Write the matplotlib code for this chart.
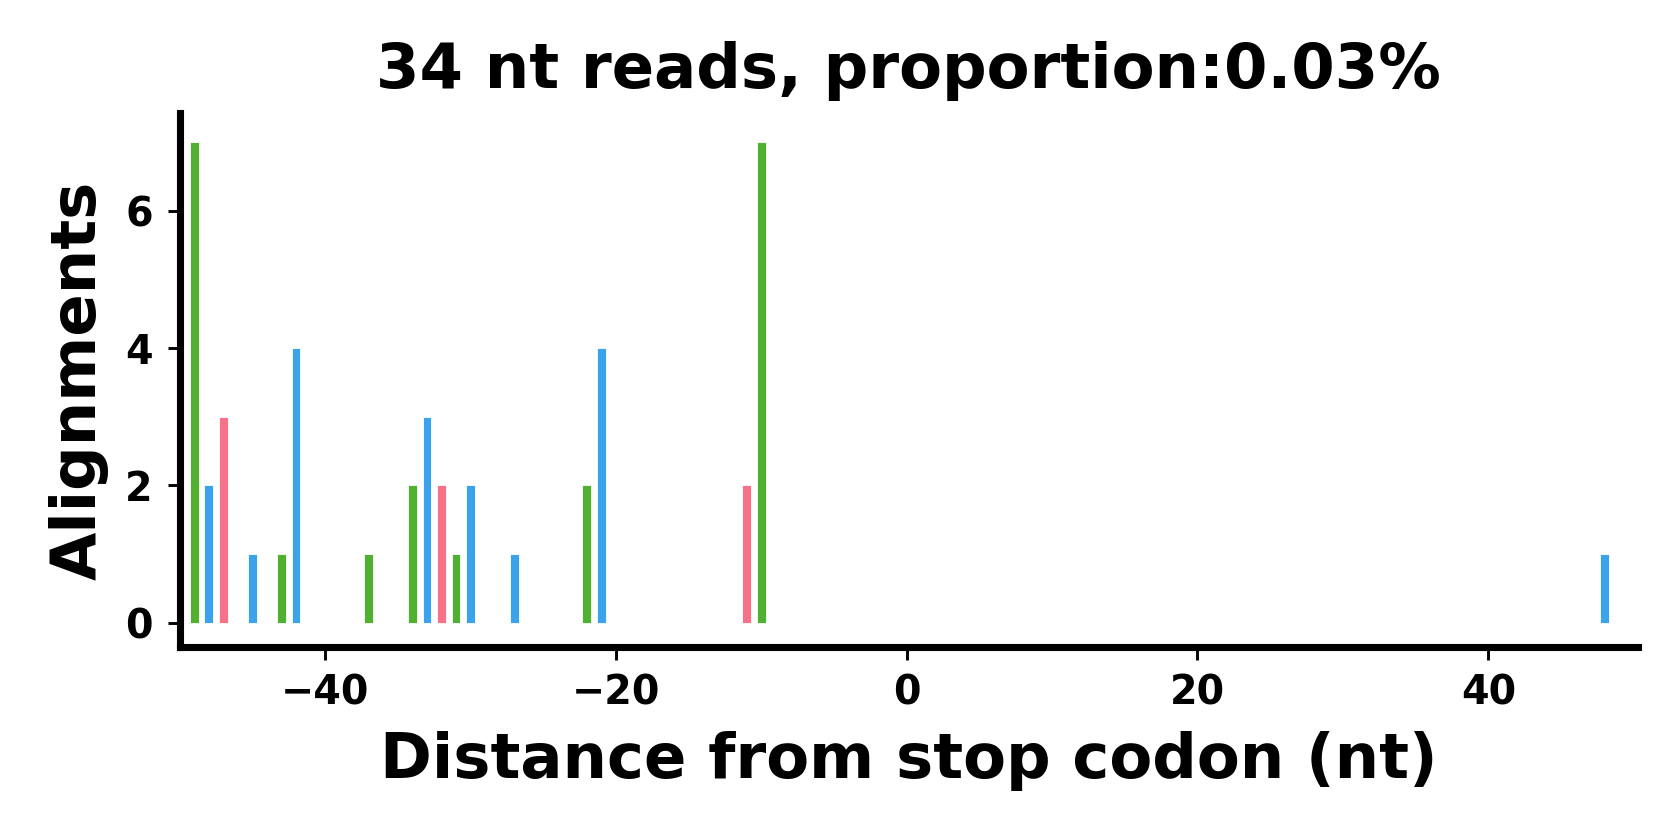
import matplotlib
matplotlib.use("Agg")
import matplotlib.pyplot as plt
import numpy as np

# distance from stop codon (nt) and number of alignments
positions = [-49, -48, -47, -45, -43, -42, -37, -34, -33, -32, -31, -30,
             -27, -22, -21, -11, -10, 48]
counts = [7, 2, 3, 1, 1, 4, 1, 2, 3, 2, 1, 2, 1, 2, 4, 2, 7, 1]

# frame colours (position mod 3)
frame_colors = {0: "#3ba3ec", 1: "#f77189", 2: "#50b131"}

plt.rcParams["font.family"] = "DejaVu Sans"
plt.rcParams["font.weight"] = "bold"

fig = plt.figure(figsize=(5.6, 2.8), dpi=300)
ax = fig.add_axes([0.107, 0.23, 0.868, 0.635])

pos = np.array(positions)
cols = [frame_colors[p % 3] for p in pos]
ax.bar(pos, counts, width=0.6, color=cols, edgecolor="white", linewidth=0.2)

ax.set_xlim(-50, 50.3)
ax.set_ylim(-0.35, 7.42)
ax.set_yticks([0, 2, 4, 6])
ax.set_title("34 nt reads, proportion:0.03%", fontsize=15, fontweight="bold")
ax.set_xlabel("Distance from stop codon (nt)", fontsize=15, fontweight="bold")
ax.set_ylabel("Alignments", fontsize=15, fontweight="bold")

for s in ["top", "right"]:
    ax.spines[s].set_visible(False)
for s in ["left", "bottom"]:
    ax.spines[s].set_linewidth(1.7)
ax.tick_params(width=0.7, length=3, labelsize=9.5)
for lab in ax.get_xticklabels() + ax.get_yticklabels():
    lab.set_fontweight("bold")

fig.savefig("out.png", dpi=300)
